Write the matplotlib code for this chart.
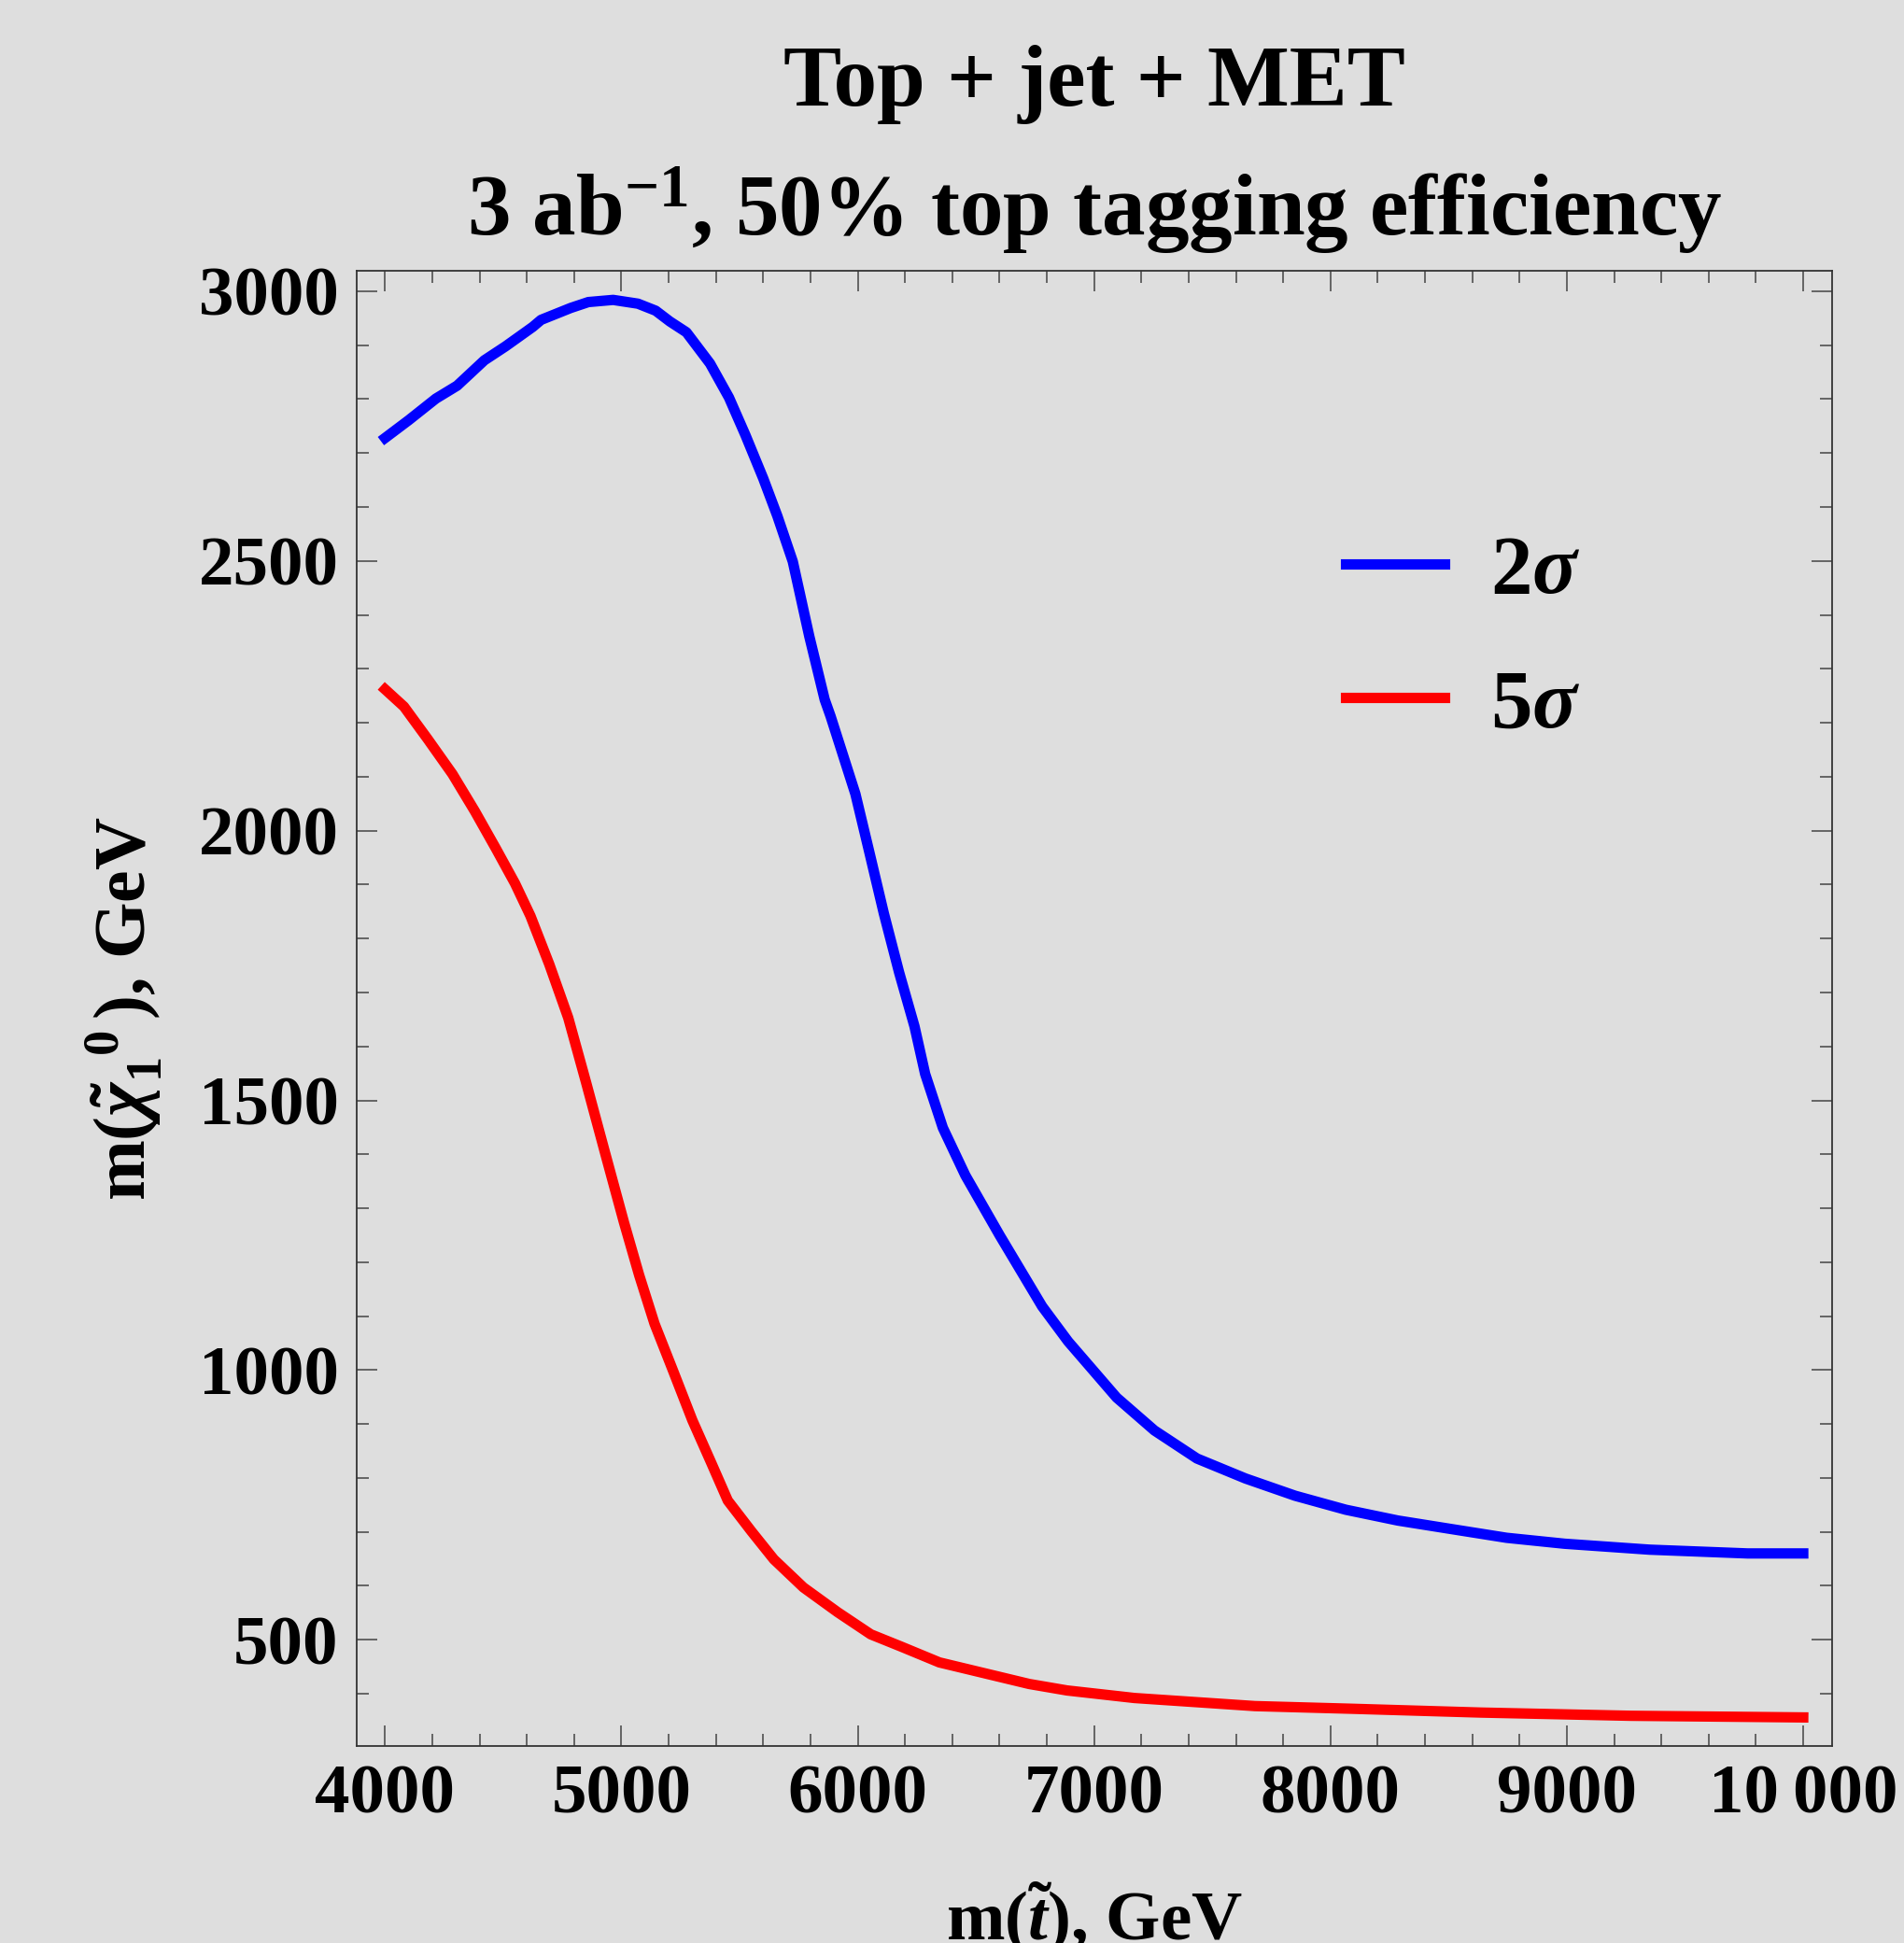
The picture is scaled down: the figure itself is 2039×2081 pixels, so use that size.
import numpy as np
import matplotlib
matplotlib.use("Agg")
import matplotlib.pyplot as plt
from matplotlib.ticker import MultipleLocator

plt.rcParams['font.family'] = ['Liberation Serif', 'DejaVu Serif']
plt.rcParams['font.weight'] = 'bold'
plt.rcParams['mathtext.fontset'] = 'custom'
plt.rcParams['mathtext.rm'] = 'Liberation Serif:bold'
plt.rcParams['mathtext.bf'] = 'Liberation Serif:bold'
plt.rcParams['mathtext.it'] = 'Liberation Serif:italic'
plt.rcParams['mathtext.bfit'] = 'Liberation Serif:italic:bold'

# 2 sigma curve (stop mass, neutralino mass), GeV
blue_x = [4000, 4100, 4215, 4305, 4420, 4510, 4625, 4660, 4785, 4860, 4965, 5070,
          5145, 5205, 5275, 5375, 5455, 5525, 5600, 5660, 5725, 5795, 5860, 5885,
          5990, 6050, 6110, 6175, 6240, 6285, 6360, 6455, 6600, 6780, 6890, 7095,
          7255, 7435, 7640, 7850, 8065, 8285, 8500, 8745, 8990, 9350, 9765, 10000]
blue_y = [2728, 2761, 2801, 2825, 2872, 2898, 2934, 2947, 2969, 2980, 2984, 2977,
          2964, 2944, 2924, 2866, 2803, 2733, 2653, 2583, 2499, 2360, 2243, 2212,
          2068, 1958, 1847, 1737, 1637, 1549, 1449, 1361, 1250, 1118, 1053, 949,
          888, 836, 799, 767, 741, 721, 706, 689, 678, 667, 660, 660]

# 5 sigma curve
red_x = [4000, 4080, 4180, 4285, 4380, 4470, 4550, 4615, 4695, 4775, 4850, 4930,
         5010, 5075, 5140, 5220, 5300, 5380, 5450, 5550, 5645, 5770, 5915, 6055,
         6185, 6345, 6535, 6725, 6885, 7170, 7680, 8095, 8635, 9270, 10000]
red_y = [2262, 2230, 2170, 2105, 2036, 1966, 1902, 1842, 1752, 1653, 1534, 1404,
         1275, 1176, 1086, 997, 907, 828, 758, 701, 649, 597, 551, 510,
         487, 458, 438, 418, 406, 392, 377, 372, 365, 359, 356]

x_ticks = [4000, 5000, 6000, 7000, 8000, 9000, 10000]
x_tick_labels = ['4000', '5000', '6000', '7000', '8000', '9000', '10\u2009000']
y_ticks = [500, 1000, 1500, 2000, 2500, 3000]
y_tick_labels = ['500', '1000', '1500', '2000', '2500', '3000']

bg = '#dedede'
fig = plt.figure(figsize=(20.4, 20.81), dpi=100, facecolor=bg)
ax = fig.add_axes([0.18725, 0.10139, 0.7745, 0.75925])
ax.set_facecolor(bg)

ax.plot(blue_x, blue_y, color=(0, 0, 1), lw=8, label=r'$\mathbf{2}\mathbfit{\sigma}$')
ax.plot(red_x, red_y, color=(1, 0, 0), lw=8, label=r'$\mathbf{5}\mathbfit{\sigma}$')

ax.set_xlim(3880, 10122)
ax.set_ylim(303, 3038)

ax.set_xticks(x_ticks)
ax.set_xticklabels(x_tick_labels)
ax.set_yticks(y_ticks)
ax.set_yticklabels(y_tick_labels)
ax.xaxis.set_minor_locator(MultipleLocator(200))
ax.yaxis.set_minor_locator(MultipleLocator(100))
ax.tick_params(which='both', direction='in', top=True, right=True,
               colors='#444444', labelcolor='black', labelsize=54, width=1.1)
ax.tick_params(which='major', length=16, pad=14)
ax.tick_params(which='minor', length=9.5)
for s in ax.spines.values():
    s.set_color('#333333')
    s.set_linewidth(1.3)

ax.set_xlabel(r'm($\tilde{t}$), GeV', fontsize=54, fontweight='bold')
ax.xaxis.label.set_va('baseline')
ax.xaxis.set_label_coords(0.5, -0.131)
ax.set_ylabel(r'm($\tilde{\chi}_{1}^{\ \ 0}\,$), GeV', fontsize=56, fontweight='bold')
ax.yaxis.label.set_va('center')
ax.yaxis.set_label_coords(-0.158, 0.5)

fig.text(0.5745, 0.9457, 'Top + jet + MET', fontsize=67, fontweight='bold',
         ha='center', va='baseline')
fig.text(0.5745, 0.8789, r'3 ab$^{-1}$, 50% top tagging efficiency', fontsize=67,
         fontweight='bold', ha='center', va='baseline')

ax.legend(loc='center left', bbox_to_anchor=(0.67, 0.75), frameon=False,
          fontsize=64, handlelength=1.2, handletextpad=0.55, labelspacing=0.7,
          borderpad=0, borderaxespad=0)

fig.savefig('out.png', dpi=100, facecolor=bg)
